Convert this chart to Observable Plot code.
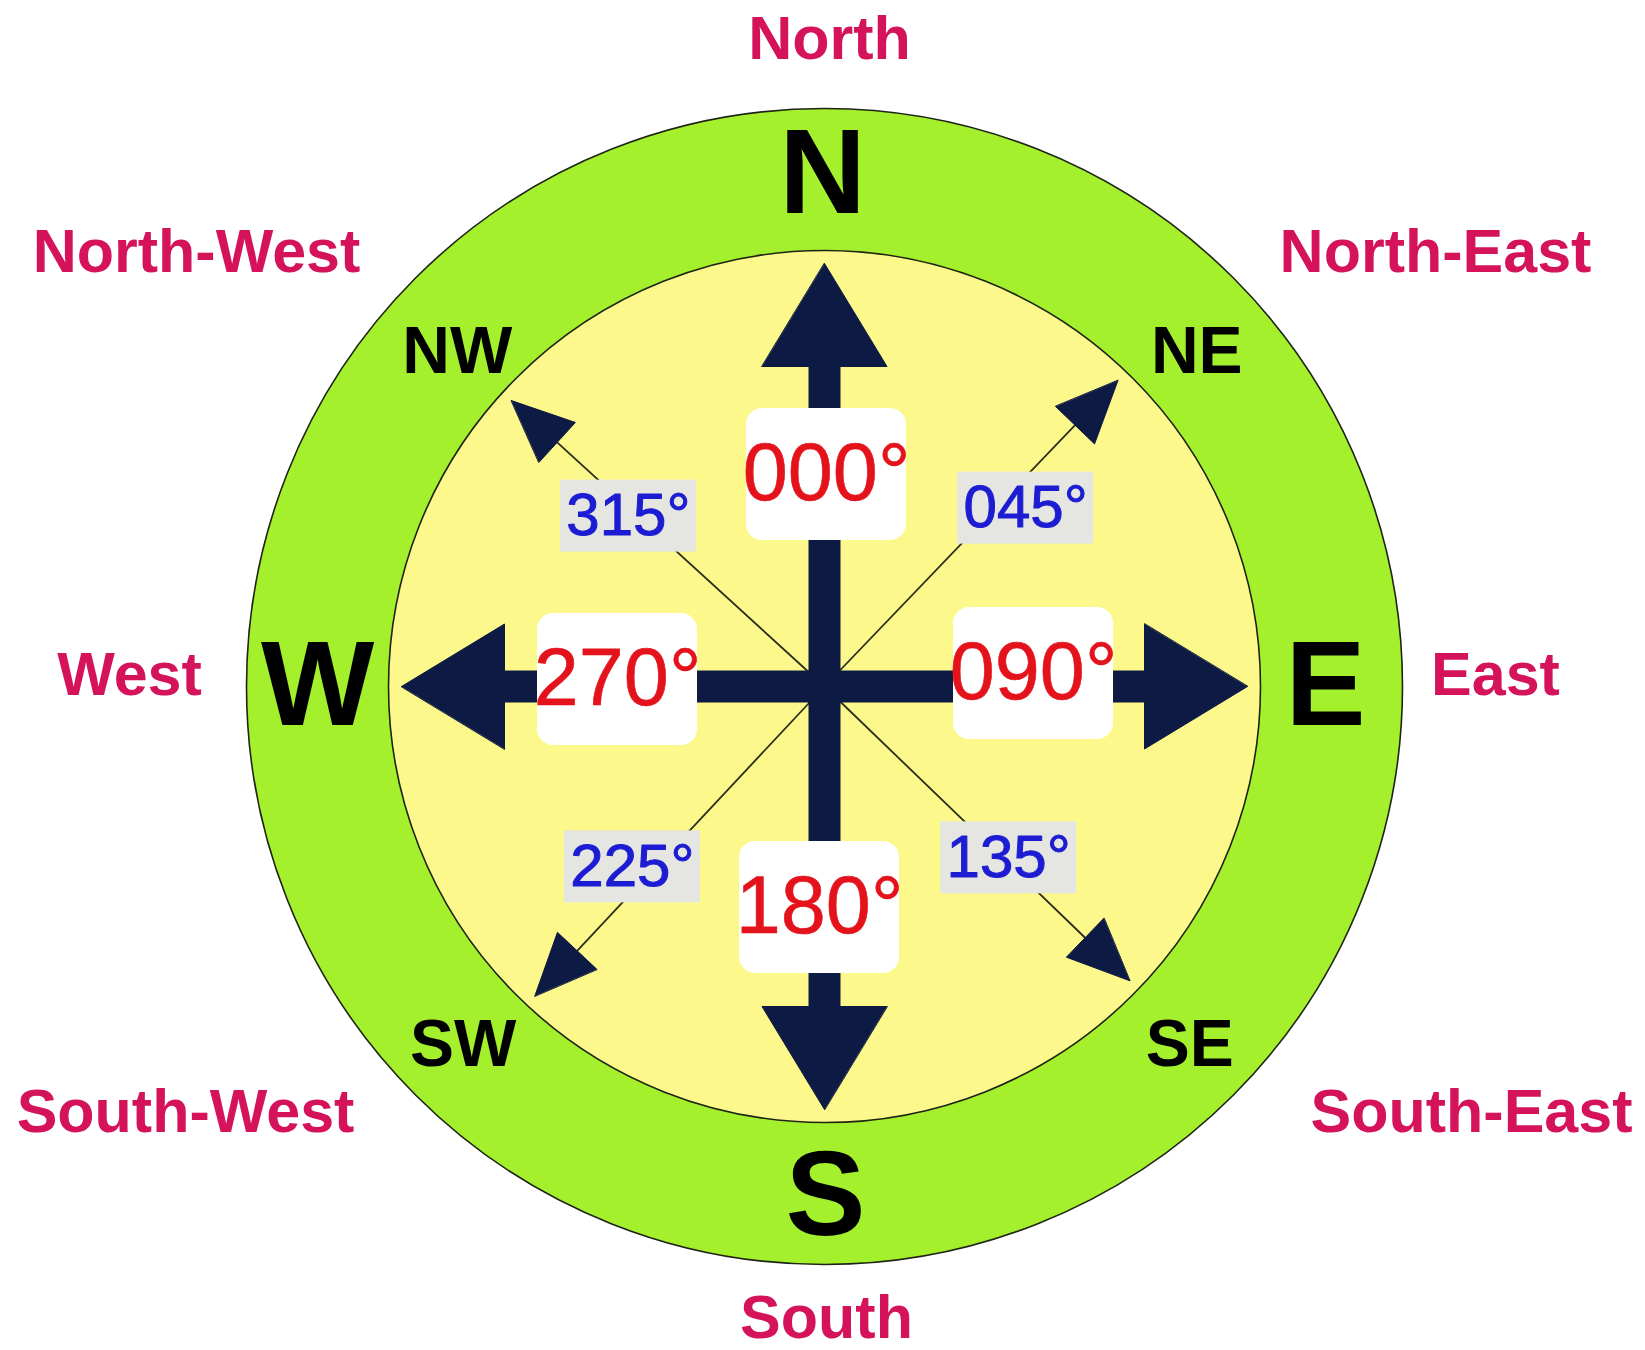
<!DOCTYPE html>
<html>
<head>
<meta charset="utf-8">
<script src="https://cdn.jsdelivr.net/npm/d3@7"></script>
<script src="https://cdn.jsdelivr.net/npm/@observablehq/plot@0.6"></script>
<style>
  html, body { margin: 0; padding: 0; background: #fff; overflow: hidden; }
  #chart svg { display: block; }
</style>
</head>
<body>
<div id="chart"></div>
<script>
// ---------------- DATA ----------------
const bearings = [0, 45, 90, 135, 180, 225, 270, 315];
const directionNames = ["North", "North-East", "East", "South-East", "South", "South-West", "West", "North-West"];
const directionAbbr = ["N", "NE", "E", "SE", "S", "SW", "W", "NW"];
const bearingLabels = ["000°", "045°", "090°", "135°", "180°", "225°", "270°", "315°"];

// ---------------- LAYOUT ----------------
const W = 1645, H = 1350;
const CX = 824, CY = 686;            // compass centre in page pixels
const FONT = "'Liberation Sans', Arial, Helvetica, sans-serif";
const NAVY = "#0c1a44";

// small hand-drawn irregularities of the original artwork (pixels / degrees)
const nudges = {
  N:  { name: [5, 6],   abbr: [-2, 2],   box: [2, -4] },
  E:  { name: [-12, 11], abbr: [-4, 0],  box: [1, 13] },
  S:  { name: [2, 9],   abbr: [1, 0],    box: [-5, -5] },
  W:  { name: [-12, 11], abbr: [-2, 0],  box: [1, 7] },
  NE: { name: [-20, 4], abbr: [6, -12],  box: [6, 3],   tilt: -1.2 },
  SE: { name: [16, 4],  abbr: [-1, -12], box: [-11, 4], tilt: -1.05 },
  SW: { name: [-8, 4],  abbr: [5, -12],  box: [3, -5],  tilt: -1.9 },
  NW: { name: [3, 4],   abbr: [-1, -12], box: [-1, -5], tilt: -2.6 }
};

const rad = b => b * Math.PI / 180;
const pos = (b, rx, ry) => ({ x: rx * Math.sin(rad(b)), y: ry * Math.cos(rad(b)) });
const add = (p, n) => ({ x: p.x + n[0], y: p.y + n[1] });

const dirs = bearings.map((b, i) => ({
  bearing: b,
  name: directionNames[i],
  abbr: directionAbbr[i],
  label: bearingLabels[i],
  cardinal: b % 90 === 0
}));
const cardinals = dirs.filter(d => d.cardinal);
const diagonals = dirs.filter(d => !d.cardinal);

const namePos = d => add(d.cardinal
  ? pos(d.bearing, 683, 641)
  : { x: Math.sign(Math.sin(rad(d.bearing))) * 631, y: Math.sign(Math.cos(rad(d.bearing))) * 430 },
  nudges[d.abbr].name);
const abbrPos = d => add(d.cardinal ? pos(d.bearing, 505, 510) : pos(d.bearing, 518, 490), nudges[d.abbr].abbr);
const boxPos = d => add(d.cardinal ? pos(d.bearing, 208, 216) : pos(d.bearing, 276, 248), nudges[d.abbr].box);

const drawAngle = d => d.bearing + (nudges[d.abbr].tilt || 0);
const arrowSpec = d => d.cardinal
  ? { tip: 423, len: 103, wid: 125 }
  : { tip: 424, len: 62, wid: 54 };

function triangle(d) {
  const { tip, len, wid } = arrowSpec(d);
  const a = rad(drawAngle(d));
  const s = Math.sin(a), c = Math.cos(a);
  const base = tip - len;
  return [
    { id: d.bearing, x: tip * s, y: tip * c },
    { id: d.bearing, x: base * s + (wid / 2) * c, y: base * c - (wid / 2) * s },
    { id: d.bearing, x: base * s - (wid / 2) * c, y: base * c + (wid / 2) * s }
  ];
}
const heads = dirs.flatMap(triangle);
const shaftEnd = d => {
  const { tip, len } = arrowSpec(d);
  return pos(drawAngle(d), tip - len, tip - len);
};

const chart = Plot.plot({
  width: W,
  height: H,
  margin: 0,
  x: { domain: [-CX, W - CX], axis: null },
  y: { domain: [-(H - CY), CY], axis: null },
  style: { background: "#ffffff", fontFamily: FONT },
  marks: [
    // outer green ring and inner yellow disc
    Plot.dot([{ x: 0, y: 0 }], { x: "x", y: "y", r: 578, fill: "#a5f02d", stroke: "#1e2414", strokeWidth: 1.6 }),
    Plot.dot([{ x: 0, y: 0 }], { x: "x", y: "y", r: 436, fill: "#fcf88b", stroke: "#1e2414", strokeWidth: 1.6 }),
    // thin diagonal lines
    Plot.link(diagonals, {
      x1: () => 0, y1: () => 0,
      x2: d => shaftEnd(d).x, y2: d => shaftEnd(d).y,
      stroke: "#2a2e18", strokeWidth: 1.8
    }),
    // thick cardinal shafts
    Plot.link(cardinals, {
      x1: () => 0, y1: () => 0,
      x2: d => shaftEnd(d).x, y2: d => shaftEnd(d).y,
      stroke: NAVY, strokeWidth: 32, strokeLinecap: "square"
    }),
    // arrow heads
    Plot.line(heads, { x: "x", y: "y", z: "id", curve: "linear-closed", fill: NAVY, stroke: NAVY, strokeWidth: 1 }),
    // label boxes
    Plot.rect(cardinals, {
      x1: d => boxPos(d).x - 80, x2: d => boxPos(d).x + 80,
      y1: d => boxPos(d).y - 66, y2: d => boxPos(d).y + 66,
      fill: "#ffffff", rx: 16
    }),
    Plot.rect(diagonals, {
      x1: d => boxPos(d).x - 68, x2: d => boxPos(d).x + 68,
      y1: d => boxPos(d).y - 36, y2: d => boxPos(d).y + 36,
      fill: "#e5e5e2"
    }),
    // bearing labels
    Plot.text(cardinals, {
      x: d => boxPos(d).x, y: d => boxPos(d).y, text: "label",
      fill: "#e4121b", stroke: "#e4121b", strokeWidth: 0.6, fontSize: 81, fontFamily: FONT
    }),
    Plot.text(diagonals, {
      x: d => boxPos(d).x, y: d => boxPos(d).y, text: "label",
      fill: "#1c1cd2", stroke: "#1c1cd2", strokeWidth: 1, fontSize: 60, fontFamily: FONT
    }),
    // letters on the ring
    Plot.text(cardinals, {
      x: d => abbrPos(d).x, y: d => abbrPos(d).y, text: "abbr",
      fill: "#000", fontSize: 120, fontWeight: "bold", fontFamily: FONT
    }),
    Plot.text(diagonals, {
      x: d => abbrPos(d).x, y: d => abbrPos(d).y, text: "abbr",
      fill: "#000", fontSize: 66, fontWeight: "bold", fontFamily: FONT
    }),
    // outer names
    Plot.text(dirs, {
      x: d => namePos(d).x, y: d => namePos(d).y, text: "name",
      fill: "#d4135b", fontSize: 61, fontWeight: "bold", fontFamily: FONT
    })
  ]
});

document.getElementById("chart").appendChild(chart);
</script>
</body>
</html>
